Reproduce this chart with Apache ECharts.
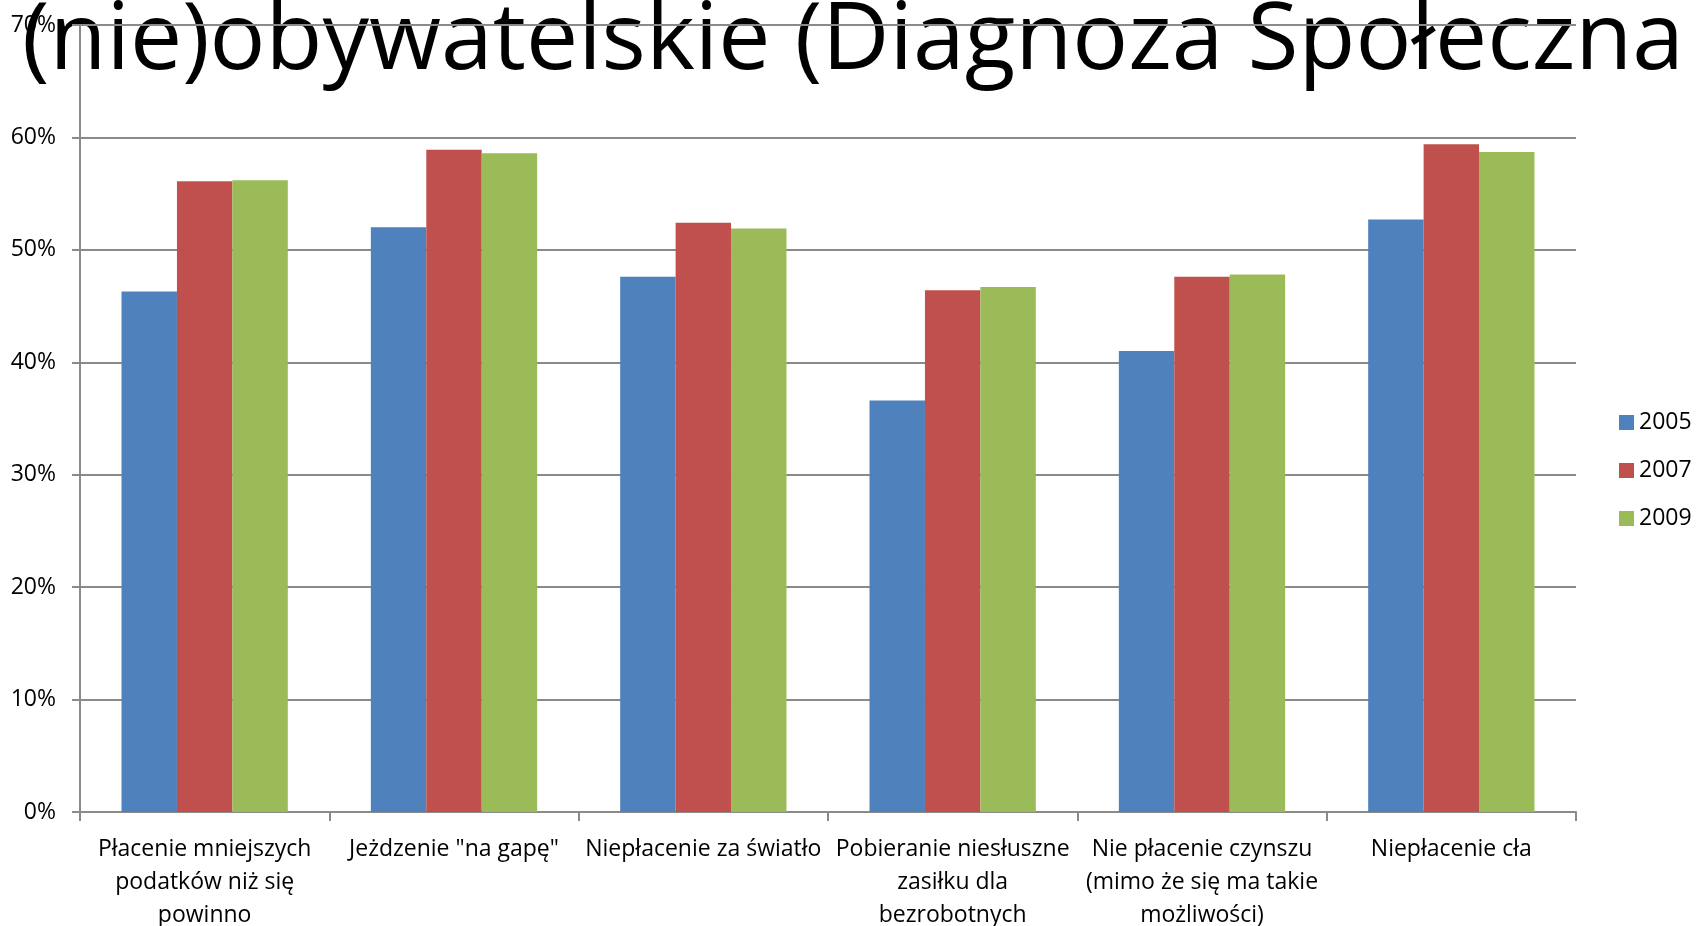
<!DOCTYPE html>
<html>
<head>
<meta charset="utf-8">
<script src="https://cdn.jsdelivr.net/npm/echarts@6/dist/echarts.min.js"></script>
<style>
html,body{margin:0;padding:0;background:#fff;}
#chart{width:1696px;height:926px;}
</style>
</head>
<body>
<div id="chart"></div>
<script>
const titleText = '(nie)obywatelskie (Diagnoza Społeczna';
const categories = [
  'Płacenie mniejszych\npodatków niż się\npowinno',
  'Jeżdzenie "na gapę"',
  'Niepłacenie za światło',
  'Pobieranie niesłuszne\nzasiłku dla\nbezrobotnych',
  'Nie płacenie czynszu\n(mimo że się ma takie\nmożliwości)',
  'Niepłacenie cła'
];
const seriesNames = ['2005', '2007', '2009'];
const values2005 = [46.3, 52.0, 47.6, 36.6, 41.0, 52.7];
const values2007 = [56.1, 58.9, 52.4, 46.4, 47.6, 59.4];
const values2009 = [56.2, 58.6, 51.9, 46.7, 47.8, 58.7];
const yTicks = [0, 10, 20, 30, 40, 50, 60, 70];
const colors = ['#4F81BD', '#C0504D', '#9BBB59'];

const FONT = '"Open Sans", "Noto Sans", sans-serif';
const chart = echarts.init(document.getElementById('chart'));
const allValues = [values2005, values2007, values2009];
chart.setOption({
  animation: false,
  backgroundColor: '#ffffff',
  textStyle: { fontFamily: FONT },
  graphic: [{
    type: 'text',
    z: -10,
    zlevel: 0,
    left: 22,
    top: -4,
    style: {
      text: titleText,
      fontFamily: FONT,
      fontSize: 93,
      fill: '#000'
    }
  }],
  legend: {
    orient: 'vertical',
    left: 1619,
    top: 411,
    padding: 0,
    itemWidth: 15,
    itemHeight: 15,
    itemGap: 25,
    icon: 'rect',
    data: seriesNames,
    textStyle: { fontSize: 23, color: '#000', fontFamily: FONT }
  },
  grid: { left: 80, right: 120, top: 25, bottom: 114, containLabel: false, outerBoundsMode: 'none' },
  xAxis: {
    type: 'category',
    data: categories,
    axisLine: { show: true, lineStyle: { color: '#8a8a8a', width: 2 } },
    axisTick: { show: true, alignWithLabel: false, length: 9, lineStyle: { color: '#8a8a8a', width: 2 } },
    axisLabel: { interval: 0, margin: 21, fontSize: 23, color: '#000', lineHeight: 33, fontFamily: FONT }
  },
  yAxis: {
    type: 'value',
    min: yTicks[0],
    max: yTicks[yTicks.length - 1],
    interval: 10,
    axisLine: { show: true, lineStyle: { color: '#8a8a8a', width: 2 } },
    axisTick: { show: true, inside: false, length: 8, lineStyle: { color: '#8a8a8a', width: 2 } },
    splitLine: { show: true, lineStyle: { color: '#8a8a8a', width: 2 } },
    axisLabel: { margin: 24, fontSize: 23, color: '#000', fontFamily: FONT, formatter: v => v + '%' }
  },
  series: seriesNames.map((name, i) => ({
    name: name,
    type: 'bar',
    data: allValues[i],
    barGap: '0%',
    barCategoryGap: '33.3%',
    itemStyle: { color: colors[i] },
    z: 5
  }))
});
</script>
</body>
</html>
